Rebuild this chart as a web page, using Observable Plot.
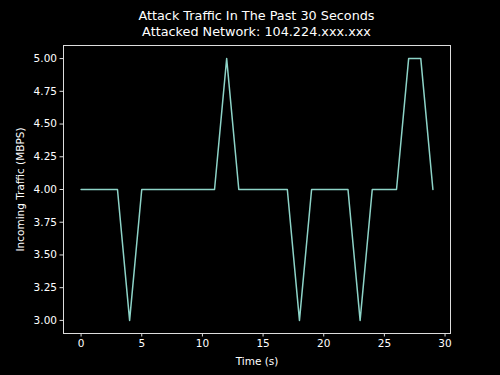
<!DOCTYPE html>
<html>
<head>
<meta charset="utf-8">
<script src="https://cdn.jsdelivr.net/npm/d3@7"></script>
<script src="https://cdn.jsdelivr.net/npm/@observablehq/plot@0.6"></script>
<style>
  html, body { margin: 0; padding: 0; background: #000; }
  #wrap { position: relative; width: 500px; height: 375px; background: #000; font-family: "DejaVu Sans", sans-serif; }
  #title { position: absolute; z-index: 2; left: 6.5px; top: 8px; width: 500px; text-align: center; color: #fff; font-size: 12.8px; line-height: 16px; }
</style>
</head>
<body>
<div id="wrap">
  <div id="title">Attack Traffic In The Past 30 Seconds<br>Attacked Network: 104.224.xxx.xxx</div>
</div>
<script>
const seconds = d3.range(0, 30);
const traffic = [4,4,4,4,3,4,4,4,4,4,4,4,5,4,4,4,4,4,3,4,4,4,4,3,4,4,4,5,5,4];
const xTicks = [0,5,10,15,20,25,30];
const yTicks = [3.00,3.25,3.50,3.75,4.00,4.25,4.50,4.75,5.00];
const data = seconds.map((s, i) => ({s, v: traffic[i]}));

const chart = Plot.plot({
  width: 500,
  height: 375,
  marginTop: 45,
  marginBottom: 42,
  marginLeft: 63,
  marginRight: 50,
  style: {background: "#000", color: "#fff", fontFamily: "DejaVu Sans, sans-serif", fontSize: "10.5px"},
  x: {domain: [-1.45, 30.45], ticks: xTicks, tickFormat: d3.format("d"), label: null},
  y: {domain: [2.9, 5.1], ticks: yTicks, tickFormat: d3.format(".2f"), label: null},
  marks: [
    Plot.frame({stroke: "#ddd", strokeWidth: 1}),
    Plot.axisX({ticks: xTicks, tickSize: 3.5, tickPadding: 3, stroke: "#ddd", fill: "#fff", tickFormat: d3.format("d"), label: null}),
    Plot.axisY({ticks: yTicks, tickSize: 3.5, tickPadding: 3, stroke: "#ddd", fill: "#fff", tickFormat: d3.format(".2f"), label: null}),
    Plot.line(data, {x: "s", y: "v", stroke: "#8dd3c7", strokeWidth: 1.5}),
    Plot.text(["Time (s)"], {frameAnchor: "bottom", dy: 28, lineAnchor: "middle", textAnchor: "middle", fill: "#fff", fontSize: 10.5}),
    Plot.text(["Incoming Traffic (MBPS)"], {frameAnchor: "left", dx: -43, rotate: -90, textAnchor: "middle", lineAnchor: "middle", fill: "#fff", fontSize: 10.5})
  ]
});
chart.style.position = "absolute";
chart.style.left = "0";
chart.style.top = "0";
chart.style.zIndex = "1";
document.getElementById("wrap").appendChild(chart);
</script>
</body>
</html>
